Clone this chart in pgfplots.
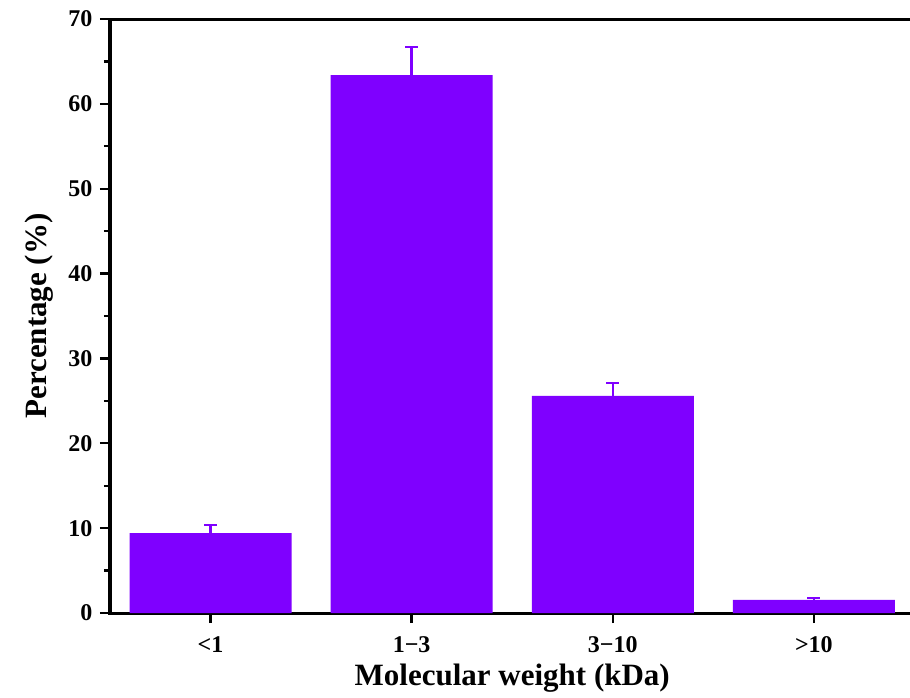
\documentclass[border=0pt]{standalone}
\usepackage{pgfplots}
\pgfplotsset{compat=1.18}
\usepackage{fontspec}
\setmainfont{Liberation Serif}
\definecolor{barc}{HTML}{7F00FF}
\begin{document}
\begin{tikzpicture}
\useasboundingbox (0,0) rectangle (910pt,697pt);
\clip (0,0) rectangle (910pt,697pt);
\begin{scope}[overlay]
\begin{axis}[
  at={(110pt,84pt)}, anchor=south west,
  scale only axis, width=804.4pt, height=594pt,
  xmin=-0.5, xmax=3.5, ymin=0, ymax=70,
  xtick={0,1,2,3}, xticklabels={<1,1−3,3−10,>10},
  ytick={0,10,...,70}, minor y tick num=1,
  xtick pos=lower, ytick pos=left,
  tick align=outside, major tick length=10pt, minor tick length=6pt,
  every tick/.style={black, line width=2.4pt},
  axis line style={line width=3pt},
  /pgf/number format/assume math mode=true,
  tick label style={font=\fontsize{24pt}{24pt}\selectfont\bfseries},
  xticklabel style={yshift=-10pt},
  yticklabel style={xshift=-4pt},
  label style={font=\fontsize{31pt}{31pt}\selectfont\bfseries},
  xlabel={Molecular weight (kDa)},
  ylabel={Percentage (\%)},
  xlabel style={at={([yshift=-72pt]axis description cs:0.5,0)}, anchor=base},
  ylabel style={at={([xshift=-63pt]axis description cs:0,0.5)}, anchor=base},
  ybar, bar width=162pt,
]
\addplot[draw=none, fill=barc,
  error bars/.cd, y dir=plus, y explicit,
  error bar style={line width=2.4pt, color=barc},
  error mark options={rotate=90, mark size=6.5pt, line width=2.4pt, color=barc}]
  table[x=x, y=y, y error=e] {
x y e
0 9.4 0.97
1 63.4 3.3
2 25.6 1.5
3 1.55 0.25
};
\end{axis}
\end{scope}
\end{tikzpicture}
\end{document}
